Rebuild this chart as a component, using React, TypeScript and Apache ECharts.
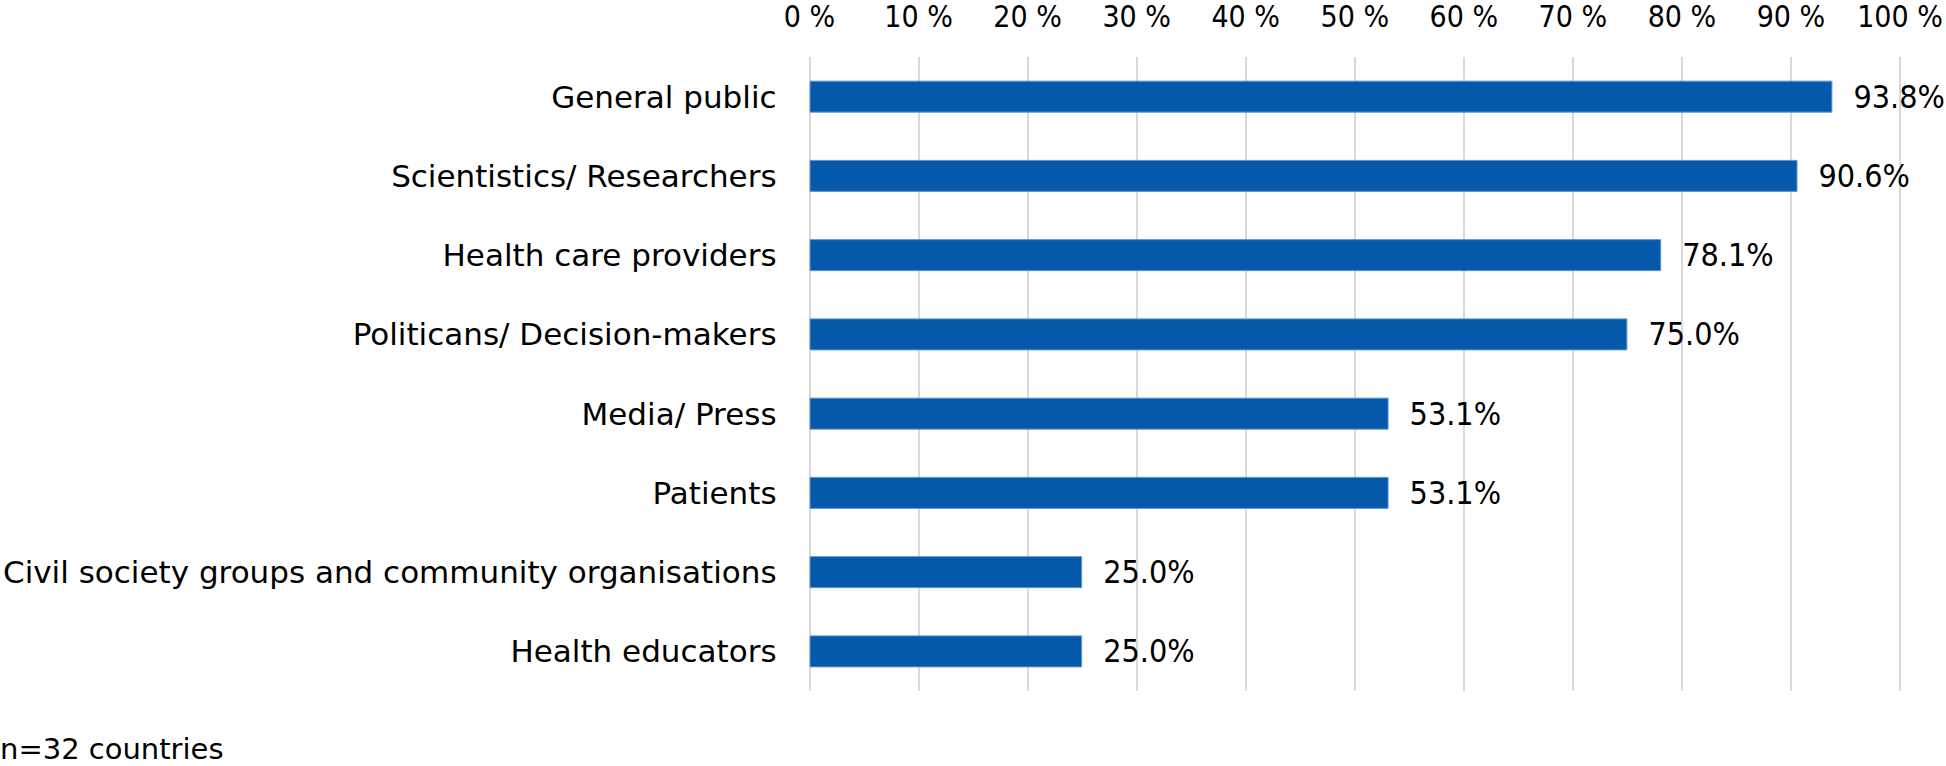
import React, { useEffect, useRef } from "react";
import * as echarts from "echarts";

const categories = [
  "General public",
  "Scientistics/ Researchers",
  "Health care providers",
  "Politicans/ Decision-makers",
  "Media/ Press",
  "Patients",
  "Civil society groups and community organisations",
  "Health educators",
];
const values = [93.8, 90.6, 78.1, 75.0, 53.1, 53.1, 25.0, 25.0];
const note = "n=32 countries";

const FONT = "'DejaVu Sans', sans-serif";
const FONT_NUM = "'DejaVu Sans Condensed', 'DejaVu Sans', sans-serif";

export default function App() {
  const ref = useRef<HTMLDivElement>(null);
  useEffect(() => {
    if (!ref.current) return;
    const chart = echarts.init(ref.current, undefined, { renderer: "svg" });
    chart.setOption({
      animation: false,
      backgroundColor: "#ffffff",
      textStyle: { fontFamily: FONT },
      grid: { left: 805, right: 46, top: 57, bottom: 75, containLabel: false },
      xAxis: {
        type: "value",
        position: "top",
        min: 0,
        max: 100,
        interval: 10,
        axisLine: { show: false },
        axisTick: { show: false },
        axisLabel: {
          formatter: "{value} %",
          fontSize: 30,
          color: "#000",
          fontFamily: FONT_NUM,
          margin: 26,
        },
        splitLine: { show: true, lineStyle: { color: "#d9d9d9", width: 2 } },
      },
      yAxis: {
        type: "category",
        data: categories,
        inverse: true,
        axisLine: { show: false },
        axisTick: { show: false },
        axisLabel: { fontSize: 31, color: "#000", fontFamily: FONT, margin: 33 },
      },
      series: [
        {
          type: "bar",
          data: values,
          barWidth: 32,
          itemStyle: { color: "#0459ab", borderColor: "#5b95d3", borderWidth: 1 },
          label: {
            show: true,
            position: "right",
            distance: 21,
            formatter: (p: any) => Number(p.value).toFixed(1) + "%",
            fontSize: 32,
            color: "#000",
            fontFamily: FONT_NUM,
          },
        },
      ],
      graphic: [
        {
          type: "text",
          left: 0,
          top: 734,
          style: { text: note, fontSize: 29, fill: "#000", fontFamily: FONT },
        },
      ],
    });
    return () => chart.dispose();
  }, []);
  return (
    <div
      ref={ref}
      style={{ position: "fixed", left: 0, top: 0, width: 1946, height: 766 }}
    />
  );
}
